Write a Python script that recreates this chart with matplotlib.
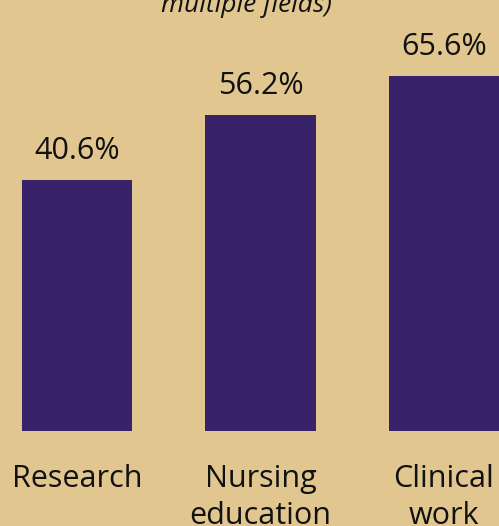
"""Bar chart: fields of work (cropped view)"""

import matplotlib
matplotlib.use("Agg")
import matplotlib.pyplot as plt
import numpy as np

# Data
categories = ["Research", "Nursing\neducation", "Clinical\nwork"]
values = [40.6, 56.2, 65.6]
value_labels = ["40.6%", "56.2%", "65.6%"]
title_tail = "multiple fields)"

BG = "#E1C78F"
BAR = "#38236A"

plt.rcParams["font.family"] = ["Open Sans", "DejaVu Sans"]

fig = plt.figure(figsize=(4.99, 5.26), dpi=100)
fig.patch.set_facecolor(BG)

# axes spans the full width, bottom edge at the bar baseline
ax = fig.add_axes([0, 95 / 526, 1, 431 / 526])
ax.set_facecolor(BG)

base = -19.4
x = np.arange(len(categories))
bars = ax.bar(x, np.array(values) - base, bottom=base, width=0.6, color=BAR)

ax.set_xlim(-0.42, 2.3)
ax.set_ylim(base, 83.7)

ax.bar_label(bars, labels=value_labels, padding=10, fontsize=22, color="#111111")

ax.set_xticks(x)
ax.set_xticklabels(categories, fontsize=22, color="#111111", linespacing=1.3)
ax.tick_params(axis="x", length=0, pad=24)
ax.set_yticks([])
for s in ax.spines.values():
    s.set_visible(False)

# Заголовок (виден только хвост)
fig.text(246 / 499, 1 - 12 / 526, title_tail, fontsize=19, style="italic",
         ha="center", va="baseline", color="#111111")

fig.savefig("out.png", dpi=100, facecolor=BG)
plt.close(fig)
